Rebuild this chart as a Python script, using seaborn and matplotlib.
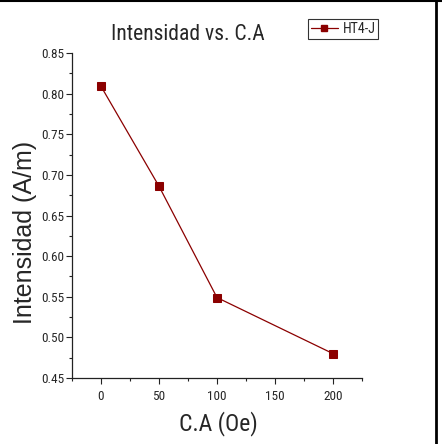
import matplotlib
matplotlib.use("Agg")
import matplotlib.pyplot as plt
import seaborn as sns
import pandas as pd
from matplotlib.ticker import MultipleLocator
from matplotlib.lines import Line2D

ca = [0, 50, 100, 200]
intensidad = [0.809, 0.686, 0.549, 0.480]
series_name = "HT4-J"

sns.set_style("ticks")
plt.rcParams['font.family'] = ['Roboto Condensed', 'Liberation Sans', 'DejaVu Sans']

df = pd.DataFrame({"CA": ca, "I": intensidad, "s": series_name})

fig = plt.figure(figsize=(4.42, 4.44), dpi=100)
ax = fig.add_axes([72/442, 1-378/444, (362-72)/442, (378-53)/444])
col = "#8b0000"
sns.lineplot(data=df, x="CA", y="I", hue="s", palette=[col], marker="s",
             markersize=6, markeredgecolor=col, linewidth=0.9, ax=ax, legend=False)

ax.set_xlim(-25, 225)
ax.set_ylim(0.45, 0.85)
ax.xaxis.set_major_locator(MultipleLocator(50))
ax.xaxis.set_minor_locator(MultipleLocator(25))
ax.yaxis.set_major_locator(MultipleLocator(0.05))
ax.yaxis.set_minor_locator(MultipleLocator(0.025))
ax.yaxis.set_major_formatter(matplotlib.ticker.FormatStrFormatter('%.2f'))
ax.tick_params(which='major', direction='out', length=4, width=0.8, labelsize=9.5, pad=1.5, color='#222222')
ax.tick_params(which='minor', direction='out', length=2.5, width=0.8, color='#222222')
ax.tick_params(axis='x', which='major', pad=5)
for s in ['top', 'right']:
    ax.spines[s].set_visible(False)
for s in ['left', 'bottom']:
    ax.spines[s].set_linewidth(0.9)
    ax.spines[s].set_color('#222222')
ax.set_xlabel("")
ax.set_ylabel("")

fig.text(188/442, 1-34/444, "Intensidad vs. C.A", ha='center', va='center', fontsize=15.5)
fig.text(218/442, 1-424/444, "C.A (Oe)", ha='center', va='center', fontsize=17)
fig.text(25/442, 1-232/444, "Intensidad (A/m)", ha='center', va='center', rotation=90,
         fontsize=18, family=['Liberation Sans', 'DejaVu Sans'])

handle = Line2D([], [], color=col, marker='s', markersize=5, linewidth=0.9, markeredgecolor=col)
leg = fig.legend([handle], [series_name], loc='center', bbox_to_anchor=(343/442, 1-29/444),
                 frameon=True, fancybox=False, fontsize=10, handlelength=2.0, handletextpad=0.3,
                 borderpad=0.2, borderaxespad=0)
leg.get_frame().set_edgecolor('black')
leg.get_frame().set_linewidth(0.8)

fig.add_artist(Line2D([0, 1], [0.998, 0.998], transform=fig.transFigure, color='black', linewidth=1.5))
fig.add_artist(Line2D([436/442, 436/442], [0, 1], transform=fig.transFigure, color='black', linewidth=2))

fig.savefig("out.png", dpi=100)
